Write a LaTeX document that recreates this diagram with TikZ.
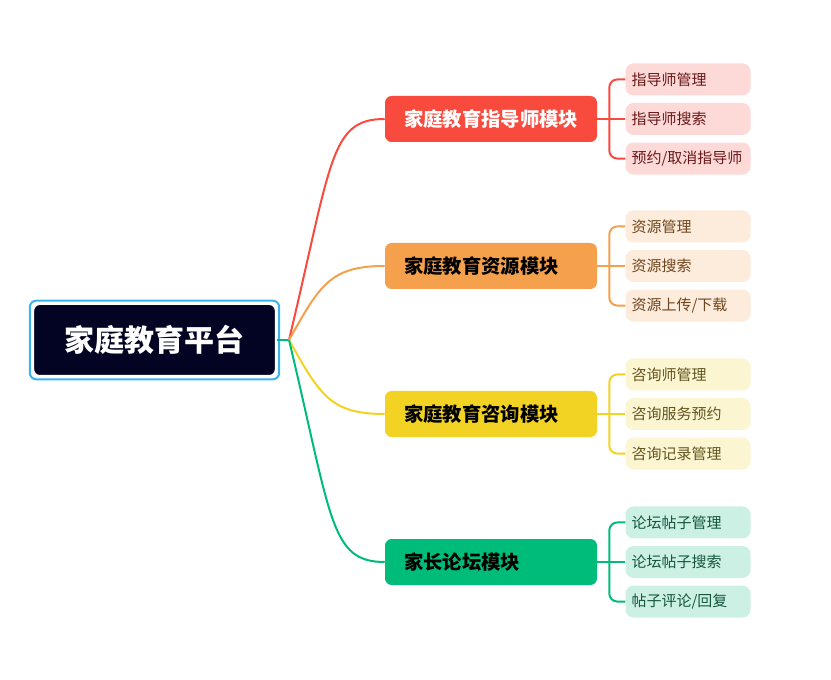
\documentclass[tikz,border=0pt]{standalone}
\usepackage{fontspec}
\setmainfont{Noto Sans CJK SC}
\usetikzlibrary{positioning}
\definecolor{rootdark}{RGB}{3,3,35}
\definecolor{rootframe}{RGB}{59,180,236}
\definecolor{modred}{RGB}{249,74,62}
\definecolor{modorange}{RGB}{245,160,76}
\definecolor{modyellow}{RGB}{242,211,35}
\definecolor{modgreen}{RGB}{0,188,122}
\definecolor{leafred}{RGB}{253,217,216}
\definecolor{leaforange}{RGB}{253,235,220}
\definecolor{leafyellow}{RGB}{252,245,210}
\definecolor{leafgreen}{RGB}{204,241,228}
\definecolor{txtred}{RGB}{105,25,25}
\definecolor{txtorange}{RGB}{110,70,30}
\definecolor{txtyellow}{RGB}{100,85,30}
\definecolor{txtgreen}{RGB}{20,85,60}

\begin{document}
\begin{tikzpicture}[x=0.75pt, y=-0.75pt,
        module/.style={rounded corners=5pt, minimum height=34.5pt, text width=130.5pt,
          inner xsep=14.25pt, align=left, font=\bfseries\fontsize{14.5}{16}\selectfont},
        leaf/.style={rounded corners=6pt, minimum height=24pt, text width=84.75pt,
          inner xsep=4.5pt, align=left, font=\fontsize{11.25}{13}\selectfont},
        link/.style={line width=1.5pt},
        bracket/.style={line width=1.5pt, rounded corners=6pt}]
      \useasboundingbox (0,0) rectangle (831,680);
      % Centre
      \node[fill=rootdark, draw=white, line width=1.5pt, rounded corners=5pt,
            minimum width=182pt, minimum height=54pt, text=white,
            font=\bfseries\fontsize{22.5}{24}\selectfont] (root) at (154.5,340) {家庭教育平台};
      \draw[rootframe, line width=1.5pt, rounded corners=5pt]
            ([shift={(-1.8pt,1.8pt)}]root.north west) rectangle ([shift={(1.8pt,-1.8pt)}]root.south east);
      \coordinate (J) at (289,340);
      % Modules
      \node[module, fill=modred, text=white] (m1) at (491,119) {家庭教育指导师模块};
      \node[module, fill=modorange] (m2) at (491,266) {家庭教育资源模块};
      \node[module, fill=modyellow] (m3) at (491,414) {家庭教育咨询模块};
      \node[module, fill=modgreen] (m4) at (491,562) {家长论坛模块};
      % Leaves
      \node[leaf, fill=leafred, text=txtred, right=21pt of m1] (a2) {指导师搜索};
      \node[leaf, fill=leafred, text=txtred, above=5.25pt of a2] (a1) {指导师管理};
      \node[leaf, fill=leafred, text=txtred, below=5.25pt of a2] (a3) {预约/取消指导师};
      \node[leaf, fill=leaforange, text=txtorange, right=21pt of m2] (b2) {资源搜索};
      \node[leaf, fill=leaforange, text=txtorange, above=5.25pt of b2] (b1) {资源管理};
      \node[leaf, fill=leaforange, text=txtorange, below=5.25pt of b2] (b3) {资源上传/下载};
      \node[leaf, fill=leafyellow, text=txtyellow, right=21pt of m3] (c2) {咨询服务预约};
      \node[leaf, fill=leafyellow, text=txtyellow, above=5.25pt of c2] (c1) {咨询师管理};
      \node[leaf, fill=leafyellow, text=txtyellow, below=5.25pt of c2] (c3) {咨询记录管理};
      \node[leaf, fill=leafgreen, text=txtgreen, right=21pt of m4] (d2) {论坛帖子搜索};
      \node[leaf, fill=leafgreen, text=txtgreen, above=5.25pt of d2] (d1) {论坛帖子管理};
      \node[leaf, fill=leafgreen, text=txtgreen, below=5.25pt of d2] (d3) {帖子评论/回复};
      % Branches
      \draw[link, modgreen] (root.east) -- (J);
      \draw[link, modred] (J) .. controls (332,160) and (330,119) .. (m1.west);
      \draw[link, modorange] (J) .. controls (320,285) and (330,266) .. (m2.west);
      \draw[link, modyellow] (J) .. controls (320,395) and (330,414) .. (m3.west);
      \draw[link, modgreen] (J) .. controls (332,520) and (330,562) .. (m4.west);
      % Brackets
      \draw[bracket, modred] (a1.west) -| ([xshift=9pt]m1.east) |- (a3.west);
      \draw[link, modred] (m1.east) -- (a2.west);
      \draw[bracket, modorange] (b1.west) -| ([xshift=9pt]m2.east) |- (b3.west);
      \draw[link, modorange] (m2.east) -- (b2.west);
      \draw[bracket, modyellow] (c1.west) -| ([xshift=9pt]m3.east) |- (c3.west);
      \draw[link, modyellow] (m3.east) -- (c2.west);
      \draw[bracket, modgreen] (d1.west) -| ([xshift=9pt]m4.east) |- (d3.west);
      \draw[link, modgreen] (m4.east) -- (d2.west);
    \end{tikzpicture}
\end{document}
